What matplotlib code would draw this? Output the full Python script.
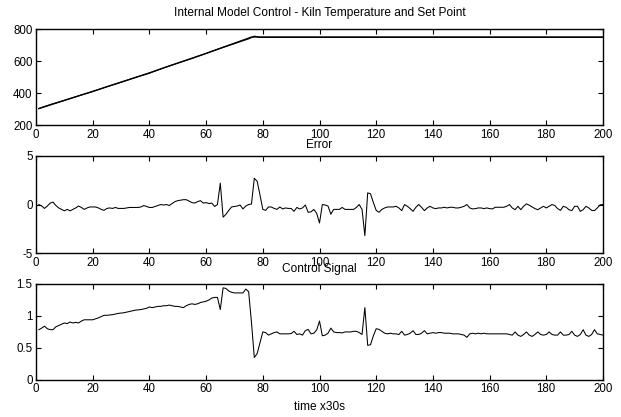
# -*- coding: utf-8 -*-
# Internal Model Control - kiln temperature, error and control signal
import numpy as np
import matplotlib
matplotlib.use('Agg')
import matplotlib.pyplot as plt

plt.rcParams['font.family'] = ['Liberation Sans', 'DejaVu Sans']
plt.rcParams['axes.unicode_minus'] = False

# samples 1..200 (time x30s)
t = np.arange(1, 201)

# kiln temperature read at break points (line is straight between them)
temp_t = [1, 5, 10, 15, 20, 25, 30, 35, 40, 45, 50, 55, 60, 65, 70, 75, 77, 79, 85, 200]
temp_val = [304, 328, 355, 383, 410, 440, 468, 497, 525, 558, 588, 617, 648,
            680, 710, 740, 756, 749, 749, 749]
# set point: ramp then hold
sp_t = [1, 20, 40, 60, 76, 200]
sp_val = [303, 411, 527, 649, 751, 751]

error = [
    0.0, -0.15, -0.4, -0.15, 0.15, 0.25, -0.1, -0.35, -0.5, -0.65,
    -0.5, -0.65, -0.5, -0.35, -0.15, -0.3, -0.5, -0.35, -0.25, -0.25,
    -0.25, -0.35, -0.5, -0.6, -0.4, -0.35, -0.4, -0.3, -0.4, -0.4,
    -0.4, -0.35, -0.3, -0.3, -0.3, -0.3, -0.25, -0.1, -0.2, -0.3,
    -0.3, -0.2, -0.1, 0.0, -0.05, 0.0, -0.1, 0.1, 0.3, 0.4,
    0.45, 0.5, 0.5, 0.35, 0.2, 0.15, 0.3, 0.4, 0.15, 0.2,
    0.1, 0.15, -0.2, 0.0, 2.2, -1.3, -1.0, -0.6, -0.25, -0.2,
    -0.15, -0.05, -0.45, -0.15, 0.0, 0.05, 2.7, 2.4, 1.0, -0.5,
    -0.6, -0.25, -0.25, -0.4, -0.5, -0.25, -0.45, -0.35, -0.4, -0.4,
    -0.7, -0.3, -0.45, -0.35, -0.05, -0.8, -0.75, -0.5, -0.9, -1.9,
    0.0, -0.05, -0.15, -1.0, -0.5, -0.5, -0.5, -0.3, -0.5, -0.5,
    -0.5, -0.5, -0.3, 0.0, -0.5, -3.2, 1.2, 1.1, 0.2, -0.6,
    -0.8, -0.5, -0.35, -0.25, -0.25, -0.25, -0.18, -0.35, -0.63, 0.0,
    -0.18, -0.42, -0.7, -0.28, 0.0, -0.28, -0.63, -0.35, -0.18, -0.35,
    -0.42, -0.35, -0.35, -0.28, -0.35, -0.28, -0.28, -0.35, -0.35, -0.28,
    -0.18, 0.0, -0.35, -0.45, -0.42, -0.35, -0.35, -0.42, -0.35, -0.42,
    -0.45, -0.28, -0.28, -0.28, -0.28, -0.18, 0.0, -0.35, -0.53, -0.18,
    -0.53, -0.18, 0.07, -0.07, -0.25, -0.42, -0.53, -0.35, -0.18, -0.35,
    -0.18, 0.0, -0.1, -0.42, -0.6, -0.18, -0.28, -0.53, -0.63, -0.18,
    -0.18, -0.7, -0.53, -0.18, -0.35, -0.6, -0.63, -0.35, -0.03, 0.0,
]

control = [
    0.785, 0.81, 0.84, 0.80, 0.785, 0.785, 0.83, 0.85, 0.87, 0.89,
    0.88, 0.905, 0.89, 0.90, 0.89, 0.92, 0.94, 0.94, 0.94, 0.94,
    0.955, 0.97, 0.99, 1.01, 1.01, 1.015, 1.02, 1.03, 1.04, 1.045,
    1.05, 1.06, 1.07, 1.08, 1.09, 1.095, 1.10, 1.11, 1.12, 1.14,
    1.13, 1.14, 1.15, 1.15, 1.16, 1.16, 1.17, 1.16, 1.15, 1.15,
    1.14, 1.13, 1.16, 1.18, 1.19, 1.18, 1.19, 1.21, 1.22, 1.23,
    1.25, 1.28, 1.29, 1.29, 1.10, 1.44, 1.43, 1.39, 1.37, 1.36,
    1.36, 1.36, 1.36, 1.42, 1.38, 0.9, 0.35, 0.41, 0.58, 0.75,
    0.74, 0.70, 0.72, 0.74, 0.75, 0.72, 0.72, 0.72, 0.72, 0.725,
    0.76, 0.71, 0.72, 0.70, 0.77, 0.79, 0.72, 0.73, 0.78, 0.92,
    0.69, 0.70, 0.73, 0.81, 0.75, 0.74, 0.74, 0.735, 0.75, 0.75,
    0.75, 0.76, 0.76, 0.74, 0.71, 1.13, 0.54, 0.55, 0.69, 0.80,
    0.79, 0.76, 0.73, 0.72, 0.73, 0.72, 0.72, 0.71, 0.76, 0.70,
    0.71, 0.73, 0.77, 0.71, 0.71, 0.73, 0.77, 0.72, 0.73, 0.74,
    0.73, 0.74, 0.74, 0.73, 0.73, 0.73, 0.72, 0.72, 0.72, 0.71,
    0.70, 0.665, 0.72, 0.73, 0.72, 0.73, 0.72, 0.73, 0.72, 0.72,
    0.72, 0.72, 0.72, 0.72, 0.72, 0.72, 0.71, 0.70, 0.75, 0.70,
    0.68, 0.71, 0.75, 0.70, 0.68, 0.71, 0.75, 0.71, 0.70, 0.71,
    0.75, 0.71, 0.70, 0.70, 0.75, 0.70, 0.70, 0.71, 0.76, 0.70,
    0.68, 0.71, 0.785, 0.70, 0.68, 0.71, 0.785, 0.72, 0.71, 0.70,
]

x_ticks = np.arange(0, 201, 20)


def style_axes(ax, ylim, yticks):
    ax.set_xlim(0, 200)
    ax.set_ylim(*ylim)
    ax.set_xticks(x_ticks)
    ax.set_yticks(yticks)
    ax.tick_params(direction='in', top=True, right=True, length=3.5,
                   width=0.8, labelsize=8.3, pad=2.5)
    for s in ax.spines.values():
        s.set_linewidth(1.0)


fig = plt.figure(figsize=(6.21, 4.17), dpi=100)
ax1 = fig.add_axes([0.058, 0.700, 0.913, 0.230])
ax2 = fig.add_axes([0.058, 0.393, 0.913, 0.233])
ax3 = fig.add_axes([0.058, 0.089, 0.913, 0.230])

ax1.plot(sp_t, sp_val, color='k', lw=0.9)
ax1.plot(temp_t, temp_val, color='k', lw=0.9)
style_axes(ax1, (200, 800), [200, 400, 600, 800])
ax1.set_yticklabels(['200', '400', '600', '800'])

ax2.plot(t, error, color='k', lw=0.75)
style_axes(ax2, (-5, 5), [-5, 0, 5])

ax3.plot(t, control, color='k', lw=0.75)
style_axes(ax3, (0, 1.5), [0, 0.5, 1, 1.5])
ax3.set_yticklabels(['0', '0.5', '1', '1.5'])

xc = 0.058 + 0.913 / 2
fig.text(xc, 1 - 13 / 417, 'Internal Model Control - Kiln Temperature and Set Point',
         ha='center', va='center', fontsize=8.6)
fig.text(xc, 1 - 145 / 417, 'Error', ha='center', va='center', fontsize=8.6)
fig.text(xc, 1 - 269 / 417, 'Control Signal', ha='center', va='center', fontsize=8.6)
fig.text(xc, 1 - 407 / 417, 'time x30s', ha='center', va='center', fontsize=8.6)

fig.savefig('out.png', dpi=100)
